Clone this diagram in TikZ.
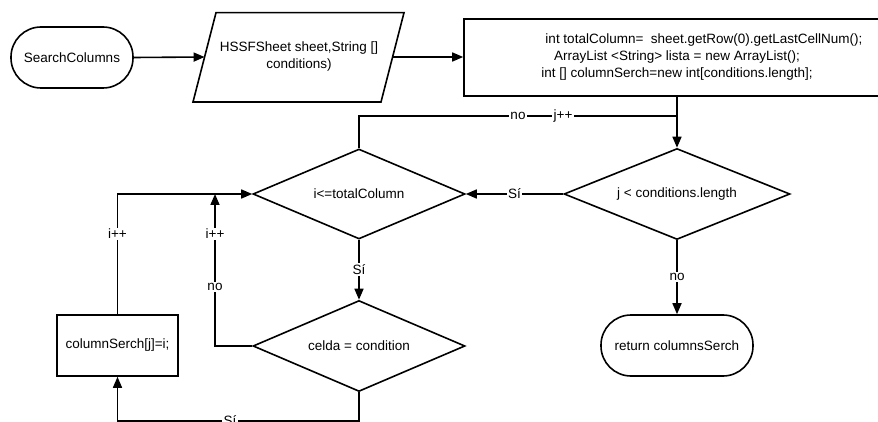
\documentclass[tikz,border=0pt]{standalone}
\usepackage{fontspec}
\setmainfont{Liberation Sans}
\usetikzlibrary{shapes.geometric,arrows.meta}
\begin{document}
\begin{tikzpicture}[x=1pt,y=-1pt,
  every node/.style={font=\fontsize{13.5}{17}\selectfont},
  line/.style={line width=1.6pt},
  arr/.style={line width=1.6pt,-{Triangle[length=11pt,width=9pt]}},
  term/.style={draw,line width=1.6pt,rectangle,rounded corners=30pt,minimum height=61pt,inner sep=0pt},
  proc/.style={draw,line width=1.6pt,rectangle,minimum height=61pt,inner sep=0pt},
  decision/.style={draw,line width=1.6pt,diamond,aspect=2.4,inner sep=0pt},
  lbl/.style={fill=white,inner sep=1.5pt}
]
\useasboundingbox (0,0) rectangle (878,422);
\fill[white] (0,0) rectangle (878,422);

% start terminator
\node[term,minimum width=122pt] (sc) at (72,57.5) {SearchColumns};

% parallelogram (input)
\draw[line,line join=miter] (193,102) -- (216,12.7) -- (404,12.7) -- (381,102) -- cycle;
\node[align=center] (par) at (299,57) {HSSFSheet sheet,String []\\conditions)};
\coordinate (parL) at (204.6,57);
\coordinate (parR) at (392.6,57);

% init rectangle (extends beyond right edge)
\node[proc,minimum width=426pt,minimum height=77pt,align=center] (init) at (677,57.5)
  {\hspace*{54pt}int totalColumn=\ \ sheet.getRow(0).getLastCellNum();\\
   ArrayList <String> lista = new ArrayList();\\
   int [] columnSerch=new int[conditions.length];};

% decisions
\node[decision,minimum width=226pt,minimum height=91pt] (jc) at (677,194) {j < conditions.length};
\node[decision,minimum width=212pt,minimum height=90pt] (ic) at (359,194) {i<=totalColumn};
\node[decision,minimum width=212pt,minimum height=91pt] (cel) at (359,346) {celda = condition};

% end terminator and assignment
\node[term,minimum width=152pt] (ret) at (677,345.5) {return columnsSerch};
\node[proc,minimum width=121pt] (cs) at (117.5,345.5) {columnSerch[j]=i;};

% helper coordinates
\coordinate (jn) at (677,116);
\coordinate (m) at (215,194);
\coordinate (b1) at (359,421);
\coordinate (b2) at (117.5,421);

% connectors
\draw[arr] (sc.east) -- (parL);
\draw[arr] (parR) -- (init.west |- parR);
\draw[arr] (init.south) -- (jc.north);
\draw[line] (ic.north) |- (jn);
\node[lbl] at (518,116) {no};
\node[lbl] at (563,116) {j++};
\draw[arr] (jc.west) -- node[lbl] {Sí} (ic.east);
\draw[arr] (jc.south) -- node[lbl] {no} (ret.north);
\draw[arr] (ic.south) -- node[lbl] {Sí} (cel.north);
\draw[arr] (cel.west) -| (m);
\node[lbl] at (215,287) {no};
\node[lbl] at (215,234) {i++};
\draw[arr] (cs.north) |- (ic.west);
\node[lbl] at (117.5,234) {i++};
\draw[arr] (cel.south) -- (b1) -- (b2) -- (cs.south);
\node[lbl] at (230,421) {Sí};
\end{tikzpicture}
\end{document}
